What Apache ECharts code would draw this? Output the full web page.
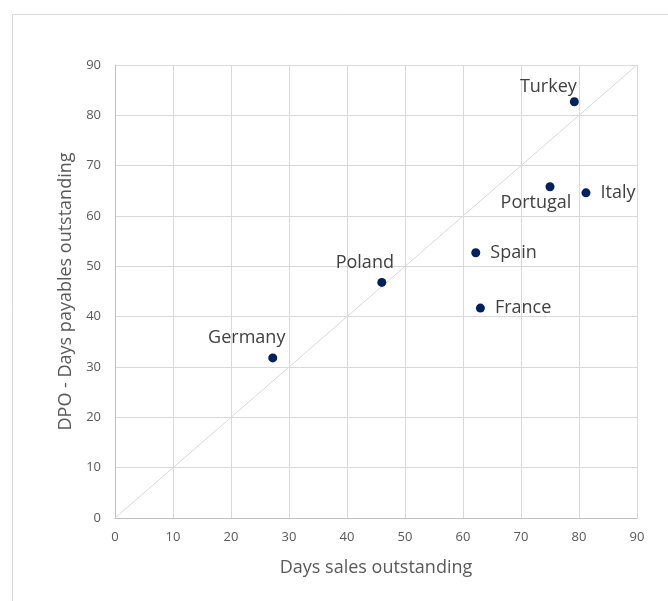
<!DOCTYPE html>
<html>
<head>
<meta charset="utf-8">
<script src="https://cdn.jsdelivr.net/npm/echarts@6/dist/echarts.min.js"></script>
<style>
  html, body { margin: 0; padding: 0; background: #ffffff; }
  #chart { width: 668px; height: 601px; }
</style>
</head>
<body>
<div id="chart"></div>
<script>
// Working-capital days by country
const countries = ['Germany', 'Poland', 'Turkey', 'Portugal', 'Italy', 'Spain', 'France'];
const dso = [27.2, 46, 79.2, 75, 81.2, 62.2, 63];     // days sales outstanding
const dpo = [31.8, 46.8, 82.7, 65.8, 64.6, 52.7, 41.7]; // days payables outstanding
const axisTicks = [0, 10, 20, 30, 40, 50, 60, 70, 80, 90];
const diagonal = [[0, 0], [90, 90]];

// Where each country's name sits relative to its dot
const labelPlacement = {
  Germany:  { position: 'inside', offset: [-26, -20] },
  Poland:   { position: 'inside', offset: [-17, -20] },
  Turkey:   { position: 'inside', offset: [-26, -15] },
  Portugal: { position: 'inside', offset: [-14, 16] },
  Italy:    { position: 'right', distance: 10 },
  Spain:    { position: 'right', distance: 10 },
  France:   { position: 'right', distance: 10 }
};

const font = '"Open Sans", Lato, sans-serif';
const textGray = '#595959';

const points = countries.map((name, i) => ({
  name: name,
  value: [dso[i], dpo[i]],
  label: Object.assign({ show: true, formatter: name }, labelPlacement[name])
}));

const chart = echarts.init(document.getElementById('chart'), null, { renderer: 'canvas' });
chart.setOption({
  animation: false,
  backgroundColor: '#ffffff',
  graphic: [{
    type: 'rect',
    shape: { x: 12.5, y: 14.5, width: 700, height: 620 },
    style: { fill: 'none', stroke: '#d9d9d9', lineWidth: 1 },
    silent: true,
    z: -1
  }],
  grid: { left: 115, top: 65, right: 31, bottom: 83 },
  xAxis: {
    type: 'value',
    min: axisTicks[0],
    max: axisTicks[axisTicks.length - 1],
    interval: 10,
    name: 'Days sales outstanding',
    nameLocation: 'middle',
    nameGap: 41,
    nameTextStyle: { fontFamily: font, fontSize: 18, color: textGray },
    axisLine: { show: true, lineStyle: { color: '#bfbfbf', width: 1 } },
    axisTick: { show: false },
    axisLabel: { fontFamily: font, fontSize: 13, color: textGray, margin: 13 },
    splitLine: { show: true, lineStyle: { color: '#d9d9d9', width: 1 } }
  },
  yAxis: {
    type: 'value',
    min: axisTicks[0],
    max: axisTicks[axisTicks.length - 1],
    interval: 10,
    name: 'DPO - Days payables outstanding',
    nameLocation: 'middle',
    nameGap: 38,
    nameTextStyle: { fontFamily: font, fontSize: 18, color: textGray },
    axisLine: { show: true, lineStyle: { color: '#bfbfbf', width: 1 } },
    axisTick: { show: false },
    axisLabel: { fontFamily: font, fontSize: 13, color: textGray, margin: 14 },
    splitLine: { show: true, lineStyle: { color: '#d9d9d9', width: 1 } }
  },
  series: [
    {
      type: 'line',
      data: diagonal,
      symbol: 'none',
      silent: true,
      lineStyle: { color: '#d9d9d9', width: 1 },
      z: 1
    },
    {
      type: 'scatter',
      data: points,
      symbol: 'circle',
      symbolSize: 9,
      itemStyle: { color: '#002060', opacity: 1 },
      label: { fontFamily: font, fontSize: 18, color: '#404040' },
      z: 3
    }
  ]
});
</script>
</body>
</html>
